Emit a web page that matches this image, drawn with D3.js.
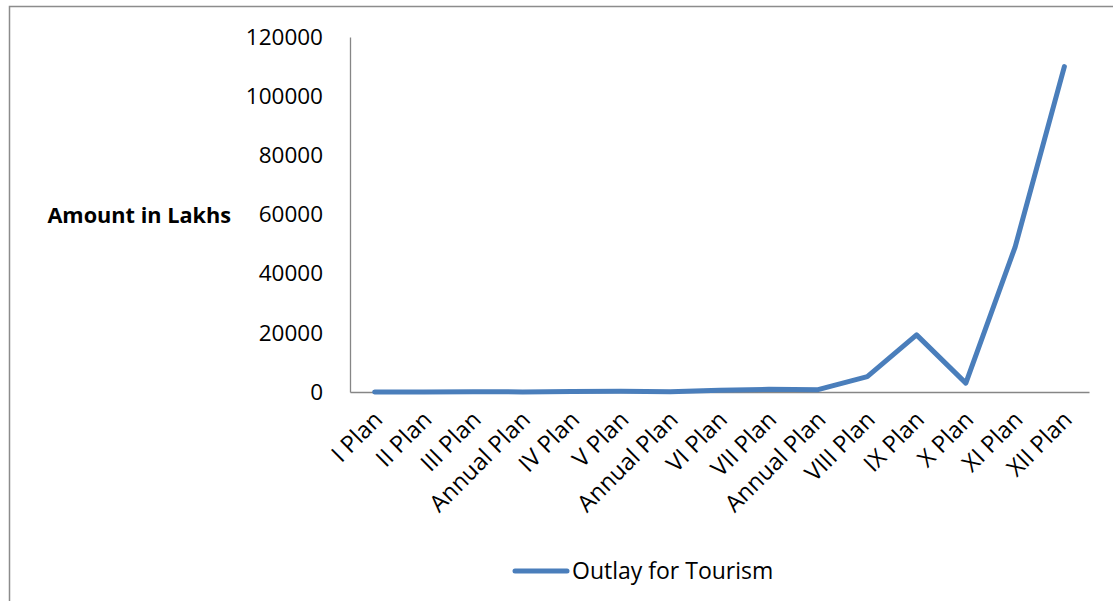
<!DOCTYPE html>
<head>
    <script src="https://d3js.org/d3.v7.min.js"></script>
    <title>Outlay for Tourism</title>
    <style>
        body { margin: 0; background: white; }
        text { font-family: "Open Sans", "Noto Sans", sans-serif; fill: #000; }
    </style>
</head>
<body>
<svg class="chart" width="1113" height="601" style="background-color: white"></svg>
<script>
    // plans and outlay
    const plans = ["I Plan", "II Plan", "III Plan", "Annual Plan", "IV Plan", "V Plan", "Annual Plan",
        "VI Plan", "VII Plan", "Annual Plan", "VIII Plan", "IX Plan", "X Plan", "XI Plan", "XII Plan"];
    const outlay = [0, 30, 80, 40, 160, 230, 100, 600, 900, 800, 5200, 19300, 3000, 49000, 110000];
    const yTicks = [0, 20000, 40000, 60000, 80000, 100000, 120000];
    const seriesName = "Outlay for Tourism";
    const yTitle = "Amount in Lakhs";

    const data = plans.map(function(p, i){ return {idx: i, plan: p, value: outlay[i]} });

    const margin = {top: 37, left: 350, right: 1089, bottom: 392};
    const svg = d3.select(".chart");

    // outer frame
    svg.append("rect")
        .attr("x", 9.5).attr("y", 6.5)
        .attr("width", 1200).attr("height", 700)
        .attr("fill", "none")
        .attr("stroke", "#8c8c8c")
        .attr("stroke-width", 1.5);

    const x = d3.scaleBand()
        .domain(d3.range(plans.length))
        .range([margin.left, margin.right]);
    const y = d3.scaleLinear()
        .domain([0, 120000])
        .range([margin.bottom, margin.top]);

    // y axis: labels only, gray line
    const yAxis = svg.append("g")
        .attr("transform", "translate(" + margin.left + ",0)")
        .call(d3.axisLeft(y).tickValues(yTicks).tickSize(0).tickPadding(27).tickFormat(d3.format("d")));
    yAxis.select(".domain").attr("stroke", "#868686").attr("stroke-width", 1.3);
    yAxis.selectAll("text")
        .style("font-size", "22.5px")
        .style("font-family", "'Open Sans', sans-serif")
        .attr("fill", "#000");

    // x axis
    const xAxis = svg.append("g")
        .attr("transform", "translate(0," + margin.bottom + ")")
        .call(d3.axisBottom(x).tickSize(0).tickFormat(function(i){ return plans[i] }));
    xAxis.select(".domain").attr("stroke", "#868686").attr("stroke-width", 1.3);
    xAxis.selectAll("text")
        .style("font-size", "23.5px")
        .style("font-family", "'Open Sans', sans-serif")
        .attr("fill", "#000")
        .attr("text-anchor", "end")
        .attr("dx", "-14")
        .attr("dy", "27")
        .attr("y", 0)
        .attr("transform", "rotate(-45)");

    // axis title
    svg.append("text")
        .attr("x", 231)
        .attr("y", 215)
        .attr("dy", "0.35em")
        .attr("text-anchor", "end")
        .style("font-size", "21.7px")
        .style("font-weight", "bold")
        .text(yTitle);

    // the line
    const line = d3.line()
        .x(function(d){ return x(d.idx) + x.bandwidth() / 2 })
        .y(function(d){ return y(d.value) });

    svg.append("path")
        .datum(data)
        .attr("d", line)
        .attr("fill", "none")
        .attr("stroke", "#4a7ebb")
        .attr("stroke-width", 5)
        .attr("stroke-linejoin", "round")
        .attr("stroke-linecap", "round");

    // legend
    svg.append("line")
        .attr("x1", 515).attr("x2", 567)
        .attr("y1", 571).attr("y2", 571)
        .attr("stroke", "#4a7ebb")
        .attr("stroke-width", 5)
        .attr("stroke-linecap", "round");
    svg.append("text")
        .attr("x", 572)
        .attr("y", 571)
        .attr("dy", "0.35em")
        .style("font-size", "23px")
        .text(seriesName);
</script>
</body>
